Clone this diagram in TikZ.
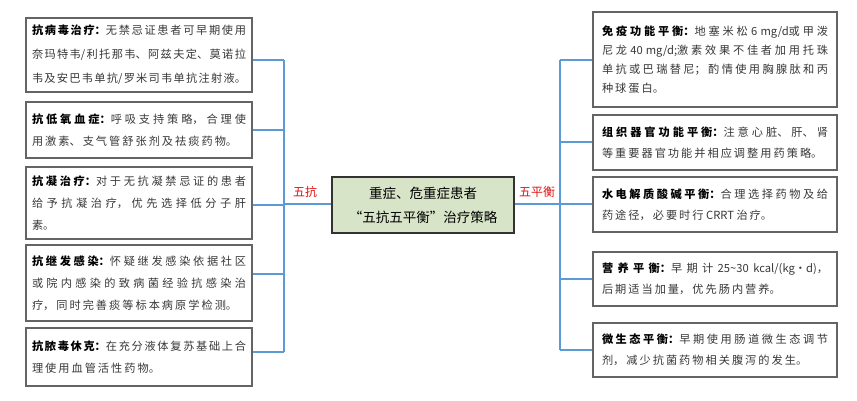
\documentclass[tikz,border=0pt]{standalone}
\usepackage{fontspec}
\setmainfont{Noto Sans CJK SC}
\XeTeXlinebreaklocale "zh"
\XeTeXlinebreakskip=2pt plus 1.5pt minus 0.8pt
\definecolor{conn}{RGB}{91,155,213}
\definecolor{boxline}{RGB}{100,100,100}
\definecolor{txt}{RGB}{55,55,55}
\definecolor{centerfill}{RGB}{216,228,200}
\definecolor{lblred}{RGB}{220,20,20}
\newcommand{\hd}[1]{\textbf{\color{black}#1}}
\tikzset{
  lbox/.style={draw=boxline, line width=1.1pt, text=txt, text width=214pt, inner xsep=6pt, inner ysep=2pt, align=justify, font=\fontsize{11.2}{22}\selectfont},
  rbox/.style={draw=boxline, line width=1.1pt, text=txt, text width=226pt, inner xsep=9pt, inner ysep=2pt, align=justify, font=\fontsize{11.2}{21}\selectfont},
  cbox/.style={draw=black!80, line width=1.1pt, fill=centerfill, minimum width=182pt, minimum height=56pt, align=center, font=\fontsize{13.5}{24}\selectfont},
  connline/.style={draw=conn, line width=1.1pt},
  lbl/.style={text=lblred, font=\fontsize{12}{13}\selectfont, inner sep=1pt}
}
\begin{document}
\begin{tikzpicture}[x=1pt,y=-1pt]
\useasboundingbox (0,0) rectangle (857,400);
% left boxes
\node[lbox, minimum height=74pt, font=\fontsize{11.2}{24}\selectfont] (l1) at (139,55) {\hd{抗病毒治疗：}无禁忌证患者可早期使用\linebreak 奈玛特韦/利托那韦、阿兹夫定、莫诺拉\linebreak 韦及安巴韦单抗/罗米司韦单抗注射液。};
\node[lbox, minimum height=56pt] (l2) at (139,130) {\hd{抗低氧血症：}呼吸支持策略，合理使\linebreak 用激素、支气管舒张剂及祛痰药物。};
\node[lbox, minimum height=72pt] (l3) at (139,203) {\hd{抗凝治疗：}对于无抗凝禁忌证的患者\linebreak 给予抗凝治疗，优先选择低分子肝\linebreak 素。};
\node[lbox, minimum height=76pt] (l4) at (139,283) {\hd{抗继发感染：}怀疑继发感染依据社区\linebreak 或院内感染的致病菌经验抗感染治\linebreak 疗，同时完善痰等标本病原学检测。};
\node[lbox, minimum height=58pt] (l5) at (139,357) {\hd{抗脓毒休克：}在充分液体复苏基础上合\linebreak 理使用血管活性药物。};
% right boxes
\node[rbox, minimum height=95pt, font=\fontsize{11.2}{19}\selectfont] (r1) at (715,59.5) {\hd{免疫功能平衡：}地塞米松 6 \mbox{mg/d}或甲泼\linebreak 尼龙 40 \mbox{mg/d;}激素效果不佳者加用托珠\linebreak 单抗或巴瑞替尼；酌情使用胸腺肽和丙\linebreak 种球蛋白。};
\node[rbox, minimum height=55pt] (r2) at (715,142.5) {\hd{组织器官功能平衡：}注意心脏、肝、肾\linebreak 等重要器官功能并相应调整用药策略。};
\node[rbox, minimum height=55pt] (r3) at (715,204.5) {\hd{水电解质酸碱平衡：}合理选择药物及给\linebreak 药途径，必要时行 CRRT 治疗。};
\node[rbox, minimum height=54pt] (r4) at (715,279) {\hd{营养平衡：}早期计 25\textasciitilde30 \mbox{kcal/(kg·d)，}\linebreak 后期适当加量，优先肠内营养。};
\node[rbox, minimum height=54pt] (r5) at (715,350) {\hd{微生态平衡：}早期使用肠道微生态调节\linebreak 剂，减少抗菌药物相关腹泻的发生。};
% center
\node[cbox] (c) at (423,205) {重症、危重症患者\\“五抗五平衡”治疗策略};
% trunk coordinates
\coordinate (lt1) at (284,60);
\coordinate (lt2) at (284,130);
\coordinate (lt3) at (284,205);
\coordinate (lt4) at (284,274);
\coordinate (lt5) at (284,352);
\coordinate (lc) at (284,204);
\coordinate (rt1) at (560,60);
\coordinate (rt2) at (560,142);
\coordinate (rt3) at (560,204);
\coordinate (rt4) at (560,279);
\coordinate (rt5) at (560,350);
\draw[connline] (lt1) -- (lt5);
\draw[connline] (rt1) -- (rt5);
\foreach \i in {1,...,5} {
  \draw[connline] (l\i.east |- lt\i) -- (lt\i);
  \draw[connline] (rt\i) -- (r\i.west |- rt\i);
}
\draw[connline] (lc) -- (c.west |- lc);
\draw[connline] (c.east |- rt3) -- (rt3);
% labels
\node[lbl] (wk) at (305,192) {五抗};
\node[lbl] (wph) at (537,192) {五平衡};
\end{tikzpicture}
\end{document}
